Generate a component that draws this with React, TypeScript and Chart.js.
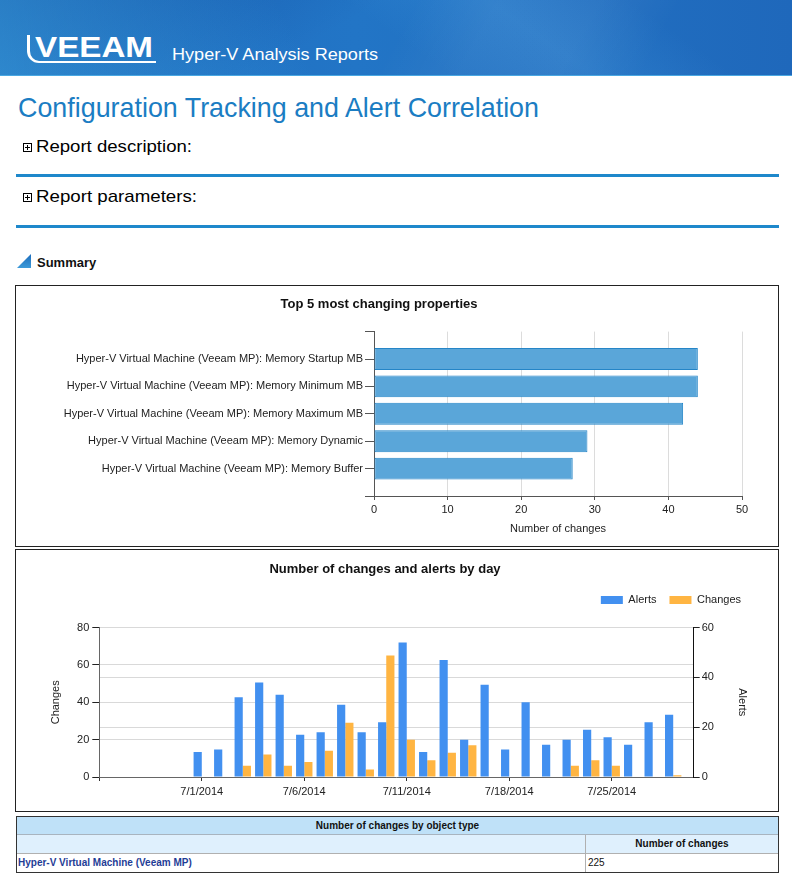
import React, { useEffect, useLayoutEffect, useRef } from 'react';
import { Chart, registerables } from 'chart.js';

Chart.register(...registerables);

const CHART_FONT = '"Liberation Sans", Arial, sans-serif';
Chart.defaults.font.family = CHART_FONT;
Chart.defaults.color = '#222';

if (typeof document !== 'undefined') {
  document.body.style.margin = '0';
}

// ---- Chart 1: Top 5 most changing properties ----
const propertyLabels = [
  'Hyper-V Virtual Machine (Veeam MP): Memory Startup MB',
  'Hyper-V Virtual Machine (Veeam MP): Memory Minimum MB',
  'Hyper-V Virtual Machine (Veeam MP): Memory Maximum MB',
  'Hyper-V Virtual Machine (Veeam MP): Memory Dynamic',
  'Hyper-V Virtual Machine (Veeam MP): Memory Buffer',
];
const propertyChanges = [44, 44, 42, 29, 27];
const propertyAxisMax = 50;
const propertyAxisStep = 10;

// ---- Chart 2: Number of changes and alerts by day ----
const leadingDays = ['6/26/2014', '6/27/2014', '6/28/2014', '6/29/2014', '6/30/2014'];
const dayLabels = [
  '7/1/2014', '7/2/2014', '7/3/2014', '7/4/2014', '7/5/2014', '7/6/2014',
  '7/7/2014', '7/8/2014', '7/9/2014', '7/10/2014', '7/11/2014',
  '7/14/2014', '7/15/2014', '7/16/2014', '7/17/2014', '7/18/2014',
  '7/21/2014', '7/22/2014', '7/23/2014', '7/24/2014', '7/25/2014',
  '7/28/2014', '7/29/2014', '7/30/2014',
];
const trailingDays = ['7/31/2014'];
const alertsByDay = [10, 11, 32, 38, 33, 17, 18, 29, 18, 22, 54, 10, 47, 15, 37, 11, 30, 13, 15, 19, 16, 13, 22, 25];
const changesByDay = [0, 0, 6, 12, 6, 8, 14, 29, 4, 65, 20, 9, 13, 17, 0, 0, 0, 0, 6, 9, 6, 0, 0, 1];
const dayTickLabels = ['7/1/2014', '7/6/2014', '7/11/2014', '7/18/2014', '7/25/2014'];
const changesAxisMax = 80;
const alertsAxisMax = 60;
const dailyAxisStep = 20;

// ---- Table ----
const objectTypes = ['Hyper-V Virtual Machine (Veeam MP)'];
const objectTypeChanges = [225];

const legendSpacer = {
  id: 'legendSpacer',
  beforeInit(chart: any) {
    const legend = chart.legend;
    if (!legend) return;
    const orig = legend.fit;
    legend.fit = function () {
      orig.call(this);
      this.height += 12;
    };
  },
};

function PropertiesChart() {
  const ref = useRef<HTMLCanvasElement>(null);
  useEffect(() => {
    const chart = new Chart(ref.current as HTMLCanvasElement, {
      type: 'bar',
      data: {
        labels: ['', ...propertyLabels, ''],
        datasets: [
          {
            data: [null, ...propertyChanges, null] as any,
            backgroundColor: '#5aa6d9',
            borderColor: '#2585c7',
            borderWidth: 1,
            borderSkipped: false,
            categoryPercentage: 0.8,
            barPercentage: 1,
          },
        ],
      },
      options: {
        indexAxis: 'y',
        animation: false,
        responsive: false,
        layout: { padding: { top: 0, right: 36, bottom: 0, left: 0 } },
        plugins: {
          legend: { display: false },
          tooltip: { enabled: false },
          title: {
            display: true,
            text: 'Top 5 most changing properties',
            font: { size: 13, weight: 'bold' },
            color: '#111',
            padding: { top: 11, bottom: 19 },
          },
        },
        scales: {
          x: {
            type: 'linear',
            min: 0,
            max: propertyAxisMax,
            ticks: { stepSize: propertyAxisStep, font: { size: 11 }, color: '#222', padding: 3 },
            grid: { color: '#dcdcdc', tickColor: '#555', tickLength: 4 },
            border: { color: '#555' },
            title: {
              display: true,
              text: 'Number of changes',
              font: { size: 11 },
              color: '#222',
              padding: { top: 0, bottom: 10 },
            },
            afterFit: (s: any) => {
              s.height = 50;
            },
          },
          y: {
            type: 'category',
            offset: false,
            grid: { drawOnChartArea: false, offset: false, tickLength: 9, tickColor: '#555' },
            border: { color: '#555' },
            ticks: { font: { size: 11 }, color: '#222', padding: 2, autoSkip: false },
            afterFit: (s: any) => {
              s.width = 358;
            },
          },
        },
      } as any,
    });
    return () => chart.destroy();
  }, []);
  return <canvas ref={ref} width={762} height={260} style={{ display: 'block', width: 762, height: 260 }} />;
}

function DailyChart() {
  const ref = useRef<HTMLCanvasElement>(null);
  useEffect(() => {
    const allDays = [...leadingDays, ...dayLabels, ...trailingDays];
    const pad = (vals: number[]) => [...leadingDays.map(() => null), ...vals, ...trailingDays.map(() => null)];
    const chart = new Chart(ref.current as HTMLCanvasElement, {
      type: 'bar',
      data: {
        labels: allDays,
        datasets: [
          {
            label: 'Alerts',
            data: pad(alertsByDay) as any,
            backgroundColor: '#4290f0',
            yAxisID: 'yAlerts',
            categoryPercentage: 0.8,
            barPercentage: 1,
          },
          {
            label: 'Changes',
            data: pad(changesByDay) as any,
            backgroundColor: '#ffb542',
            yAxisID: 'yChanges',
            categoryPercentage: 0.8,
            barPercentage: 1,
          },
        ],
      },
      options: {
        animation: false,
        responsive: false,
        layout: { padding: { top: 0, right: 24, bottom: 0, left: 0 } },
        plugins: {
          tooltip: { enabled: false },
          legend: {
            position: 'top',
            align: 'end',
            labels: { boxWidth: 22, boxHeight: 8, padding: 13, font: { size: 11 }, color: '#222' },
          },
          title: {
            display: true,
            text: 'Number of changes and alerts by day',
            font: { size: 13, weight: 'bold' },
            color: '#111',
            padding: { top: 12, bottom: 4 },
          },
        },
        scales: {
          x: {
            offset: false,
            grid: { drawOnChartArea: false, offset: false, tickLength: 4, tickColor: '#333' },
            border: { color: '#666' },
            ticks: {
              autoSkip: false,
              maxRotation: 0,
              padding: 4,
              font: { size: 11 },
              color: '#222',
              callback: function (this: any, value: any) {
                const l = this.getLabelForValue(value);
                return dayTickLabels.includes(l) ? l : '';
              },
            },
            afterBuildTicks: (s: any) => {
              s.ticks = s.ticks.filter((t: any) => t.value === 0 || dayTickLabels.includes(allDays[t.value]));
            },
            afterFit: (s: any) => {
              s.height = 34;
            },
          },
          yChanges: {
            position: 'left',
            min: 0,
            max: changesAxisMax,
            ticks: { stepSize: dailyAxisStep, padding: 3, font: { size: 11 }, color: '#222' },
            grid: { color: '#d9d9d9', tickColor: '#222', tickLength: 7 },
            border: { color: '#666' },
            title: { display: true, text: 'Changes', font: { size: 11 }, color: '#222', padding: { top: 33, bottom: 0 } },
            afterFit: (s: any) => {
              s.width = 83.3;
            },
          },
          yAlerts: {
            position: 'right',
            min: 0,
            max: alertsAxisMax,
            ticks: { stepSize: dailyAxisStep, padding: 2, font: { size: 11 }, color: '#222' },
            grid: { color: '#d9d9d9', tickColor: '#222', tickLength: 6 },
            border: { color: '#111' },
            title: { display: true, text: 'Alerts', font: { size: 11 }, color: '#222', padding: { top: 5, bottom: 0 } },
            afterFit: (s: any) => {
              s.width = 60.3;
            },
          },
        },
      } as any,
      plugins: [legendSpacer],
    });
    return () => chart.destroy();
  }, []);
  return <canvas ref={ref} width={762} height={261} style={{ display: 'block', width: 762, height: 261 }} />;
}

function PlusBox({ top, left }: { top: number; left: number }) {
  return (
    <div style={{ position: 'absolute', top, left, width: 7, height: 7, border: '1px solid #000', background: '#fff' }}>
      <div style={{ position: 'absolute', left: 1, top: 3, width: 5, height: 1, background: '#000' }} />
      <div style={{ position: 'absolute', left: 3, top: 1, width: 1, height: 5, background: '#000' }} />
    </div>
  );
}

// Text stretched horizontally to the width measured in the reference.
function FitText({ width, style, children }: { width: number; style: React.CSSProperties; children: React.ReactNode }) {
  const ref = useRef<HTMLDivElement>(null);
  useLayoutEffect(() => {
    const el = ref.current;
    if (!el) return;
    el.style.transform = 'none';
    const w = el.getBoundingClientRect().width;
    if (w > 0) el.style.transform = `scaleX(${width / w})`;
  }, [width]);
  return (
    <div
      ref={ref}
      style={{ position: 'absolute', whiteSpace: 'nowrap', transformOrigin: '0 50%', display: 'inline-block', ...style }}
    >
      {children}
    </div>
  );
}

const SANS = '"Liberation Sans", Arial, sans-serif';

export default function App() {
  const abs = (style: React.CSSProperties): React.CSSProperties => ({ position: 'absolute', whiteSpace: 'nowrap', ...style });
  return (
    <div style={{ position: 'relative', width: 792, height: 878, overflow: 'hidden', background: '#fff', fontFamily: SANS }}>
      {/* Banner */}
      <div
        style={abs({
          left: 0,
          top: 0,
          width: 792,
          height: 75,
          borderBottom: '1px solid #4aa8e2',
          background:
            'linear-gradient(118deg, rgba(255,255,255,0) 50%, rgba(255,255,255,0.05) 60%, rgba(255,255,255,0.05) 72%, rgba(255,255,255,0) 82%),' +
            'linear-gradient(62deg, rgba(70,185,240,0.45) 0%, rgba(70,185,240,0) 38%),' +
            'linear-gradient(150deg, rgba(0,30,110,0.25) 0%, rgba(0,30,110,0) 42%),' +
            'linear-gradient(35deg, rgba(0,0,0,0) 50%, rgba(90,180,240,0.16) 66%, rgba(0,0,0,0) 82%),' +
            'linear-gradient(90deg, #1f6cbe 0%, #2275c6 45%, #1f68bb 100%)',
        })}
      />
      <div
        style={abs({
          left: 27,
          top: 35,
          width: 126,
          height: 26,
          borderLeft: '3px solid #fff',
          borderBottom: '2px solid #fff',
          borderBottomLeftRadius: 12,
        })}
      />
      <FitText
        width={118}
        style={{ left: 35, top: 33, lineHeight: '28px', fontSize: 29, fontWeight: 'bold', color: '#fff' }}
      >
        VEEAM
      </FitText>
      <FitText width={206} style={{ left: 172, top: 45, lineHeight: '20px', fontSize: 17, color: '#fff' }}>
        Hyper-V Analysis Reports
      </FitText>

      {/* Title */}
      <FitText width={521} style={{ left: 18, top: 91, lineHeight: '34px', fontSize: 28, color: '#1b7dc3' }}>
        Configuration Tracking and Alert Correlation
      </FitText>

      <PlusBox top={143} left={23} />
      <FitText width={156} style={{ left: 36, top: 137, lineHeight: '20px', fontSize: 17, color: '#000' }}>
        Report description:
      </FitText>
      <div style={abs({ left: 16, top: 174, width: 763, height: 3, background: '#1e88cb' })} />

      <PlusBox top={193} left={23} />
      <FitText width={161} style={{ left: 36, top: 187, lineHeight: '20px', fontSize: 17, color: '#000' }}>
        Report parameters:
      </FitText>
      <div style={abs({ left: 16, top: 225, width: 763, height: 3, background: '#1e88cb' })} />

      {/* Summary */}
      <div
        style={abs({
          left: 17,
          top: 254,
          width: 14,
          height: 14,
          background: 'linear-gradient(to bottom, #1c6cbb, #3d9ad9)',
          clipPath: 'polygon(100% 0, 100% 100%, 0 100%)',
        })}
      />
      <div style={abs({ left: 37, top: 255, lineHeight: '16px', fontSize: 13, fontWeight: 'bold', color: '#111' })}>Summary</div>

      {/* Chart 1 */}
      <div style={abs({ left: 15, top: 285, width: 762, height: 260, border: '1px solid #222' })}>
        <PropertiesChart />
      </div>

      {/* Chart 2 */}
      <div style={abs({ left: 15, top: 549, width: 762, height: 261, border: '1px solid #222' })}>
        <DailyChart />
      </div>

      {/* Table */}
      <div style={abs({ left: 16, top: 816, width: 761, height: 55, border: '1px solid #333', background: '#fff' })}>
        <div
          style={abs({
            left: 0,
            top: 0,
            width: 761,
            height: 17,
            background: '#bfe1f8',
            borderBottom: '1px solid #a8b4bf',
            textAlign: 'center',
            lineHeight: '17px',
            fontSize: 10,
            fontWeight: 'bold',
            color: '#111',
          })}
        >
          Number of changes by object type
        </div>
        <div style={abs({ left: 0, top: 18, width: 761, height: 18, background: '#dff0fd', borderBottom: '1px solid #b0b0b0' })} />
        <div style={abs({ left: 568, top: 18, width: 1, height: 37, background: '#b0b0b0' })} />
        <div
          style={abs({
            left: 569,
            top: 18,
            width: 192,
            height: 18,
            textAlign: 'center',
            lineHeight: '18px',
            fontSize: 10,
            fontWeight: 'bold',
            color: '#111',
          })}
        >
          Number of changes
        </div>
        {objectTypes.map((t, i) => (
          <React.Fragment key={t}>
            <div
              style={abs({
                left: 1,
                top: 37 + i * 19,
                lineHeight: '18px',
                fontSize: 10,
                fontWeight: 'bold',
                color: '#1f3d96',
              })}
            >
              {t}
            </div>
            <div style={abs({ left: 571, top: 37 + i * 19, lineHeight: '18px', fontSize: 10, color: '#111' })}>
              {objectTypeChanges[i]}
            </div>
          </React.Fragment>
        ))}
      </div>
    </div>
  );
}
